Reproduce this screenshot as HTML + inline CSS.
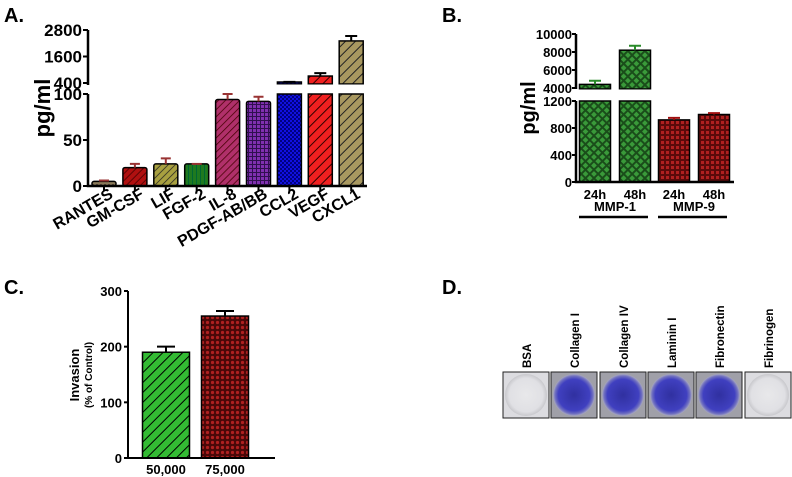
<!DOCTYPE html>
<html><head><meta charset="utf-8"><style>
body{margin:0;background:#fff;width:792px;height:477px;overflow:hidden;font-family:"Liberation Sans",Arial,sans-serif}
svg{position:absolute;left:0;top:0}
text{font-family:"Liberation Sans",Arial,sans-serif;font-weight:bold;fill:#000}
</style></head><body>
<svg id="fig" width="792" height="477" viewBox="0 0 792 477">
<defs>
<pattern id="pBrown" width="4" height="4" patternUnits="userSpaceOnUse"><rect width="4" height="4" fill="#8a7a5a"/><rect width="2" height="2" fill="#5a4a3a"/></pattern>
<pattern id="pRed" width="5" height="5" patternUnits="userSpaceOnUse" patternTransform="rotate(45)"><rect width="5" height="5" fill="#b01010"/><line x1="0" y1="0" x2="0" y2="5" stroke="#400" stroke-width="1.5"/></pattern>
<pattern id="pOlive" width="5" height="5" patternUnits="userSpaceOnUse" patternTransform="rotate(45)"><rect width="5" height="5" fill="#a8a040"/><line x1="0" y1="0" x2="0" y2="5" stroke="#222" stroke-width="1.5"/></pattern>
<pattern id="pGreenV" width="4" height="4" patternUnits="userSpaceOnUse"><rect width="4" height="4" fill="#1f7a1f"/><line x1="0.5" y1="0" x2="0.5" y2="4" stroke="#063" stroke-width="1"/></pattern>
<pattern id="pMaroon" width="5" height="5" patternUnits="userSpaceOnUse" patternTransform="rotate(45)"><rect width="5" height="5" fill="#b0306a"/><line x1="0" y1="0" x2="0" y2="5" stroke="#400" stroke-width="1.5"/></pattern>
<pattern id="pPurple" width="4" height="4" patternUnits="userSpaceOnUse"><rect width="4" height="4" fill="#8030b0"/><path d="M0 0.5H4M0.5 0V4" stroke="#301050" stroke-width="1"/></pattern>
<pattern id="pBlue" width="4" height="4" patternUnits="userSpaceOnUse"><rect width="4" height="4" fill="#1010e0"/><rect width="2" height="2" fill="#000080"/><rect x="2" y="2" width="2" height="2" fill="#000080"/></pattern>
<pattern id="pVegf" width="7" height="7" patternUnits="userSpaceOnUse" patternTransform="rotate(45)"><rect width="7" height="7" fill="#f02020"/><line x1="0" y1="0" x2="0" y2="7" stroke="#300" stroke-width="2"/></pattern>
<pattern id="pKhaki" width="7" height="7" patternUnits="userSpaceOnUse" patternTransform="rotate(45)"><rect width="7" height="7" fill="#a89860"/><line x1="0" y1="0" x2="0" y2="7" stroke="#222" stroke-width="2"/></pattern>
<pattern id="pGreenX" width="6" height="6" patternUnits="userSpaceOnUse" patternTransform="rotate(45)"><rect width="6" height="6" fill="#1a4d1a"/><rect x="1" y="1" width="4" height="4" fill="#3a9a3a"/></pattern>
<pattern id="pRedX" width="5" height="5" patternUnits="userSpaceOnUse"><rect width="5" height="5" fill="#5a0a0a"/><rect x="1" y="1" width="3" height="3" fill="#b02020"/></pattern>
<pattern id="pGreenD" width="7" height="7" patternUnits="userSpaceOnUse" patternTransform="rotate(45)"><rect width="7" height="7" fill="#33bb33"/><line x1="0" y1="0" x2="0" y2="7" stroke="#000" stroke-width="2"/></pattern>
<pattern id="pRedC" width="5" height="5" patternUnits="userSpaceOnUse"><rect width="5" height="5" fill="#4a0808"/><circle cx="2.5" cy="2.5" r="1.6" fill="#b02020"/></pattern>
<radialGradient id="gBlue"><stop offset="0" stop-color="#3030a0"/><stop offset="0.75" stop-color="#4040c0"/><stop offset="0.9" stop-color="#7070c0"/><stop offset="1" stop-color="#a8a8c0"/></radialGradient>
<radialGradient id="gBlank"><stop offset="0" stop-color="#e8e8ea"/><stop offset="0.8" stop-color="#e0e0e4"/><stop offset="1" stop-color="#c8c8cc"/></radialGradient>
</defs>
<g id="A"></g><g id="B"></g><g id="C"></g><g id="D"></g>
</svg>
<script>
const NS='http://www.w3.org/2000/svg';
function mk(p,tag,attrs,txt){const e=document.createElementNS(NS,tag);for(const k in attrs)e.setAttribute(k,attrs[k]);if(txt!=null)e.textContent=txt;p.appendChild(e);return e;}

// ---- Panel A data
const aCategories=['RANTES','GM-CSF','LIF','FGF-2','IL-8','PDGF-AB/BB','CCL2','VEGF','CXCL1'];
const aValues=[5,20,24,24,94,92,445,715,2305];
const aErrors=[6,24,30,24,100,97,450,850,2530];
const aFills=['pBrown','pRed','pOlive','pGreenV','pMaroon','pPurple','pBlue','pVegf','pKhaki'];
const aLowTicks=[0,50,100];
const aHighTicks=[400,1600,2800];
// ---- Panel B data
const bCategories=['24h','48h','24h','48h'];
const bGroups=['MMP-1','MMP-9'];
const bValues=[4400,8200,920,1000];
const bErrors=[4800,8700,950,1020];
const bFills=['pGreenX','pGreenX','pRedX','pRedX'];
const bLowTicks=[0,400,800,1200];
const bHighTicks=[4000,6000,8000,10000];
// ---- Panel C data
const cCategories=['50,000','75,000'];
const cValues=[190,255];
const cErrors=[200,264];
const cFills=['pGreenD','pRedC'];
const cTicks=[0,100,200,300];
// ---- Panel D
const dLabels=['BSA','Collagen I','Collagen IV','Laminin I','Fibronectin','Fibrinogen'];
const dStained=[false,true,true,true,true,false];

// Panel A
(function(){
const g=document.getElementById('A');
const X0=88,XEND=367,bw=24,step=30.9,first=104;
const yLow=v=>186-v*0.92;
const yHigh=v=>83-(v-400)*(53/2400);
const t=mk(g,'text',{x:4,y:22,'font-size':20},'A.');

const yt=mk(g,'text',{transform:'translate(50,108) rotate(-90)','font-size':22,'text-anchor':'middle'},'pg/ml');

aCategories.forEach((c,i)=>{
 const cx=first+i*step, x=cx-bw/2, v=aValues[i];
 const bar=mk(g,'g',{});
 
 
 if(v<=100){
  mk(bar,'rect',{x:x,y:yLow(v),width:bw,height:186-yLow(v),fill:'url(#'+aFills[i]+')',stroke:'#000','stroke-width':1.5,rx:2});
  mk(bar,'path',{d:`M${cx} ${yLow(v)}V${yLow(aErrors[i])}M${cx-5} ${yLow(aErrors[i])}H${cx+5}`,stroke:'#933','stroke-width':2,fill:'none'});
 } else {
  mk(bar,'rect',{x:x,y:yLow(100),width:bw,height:186-yLow(100),fill:'url(#'+aFills[i]+')',stroke:'#000','stroke-width':1.5});
  mk(bar,'rect',{x:x,y:yHigh(v),width:bw,height:84-yHigh(v),fill:'url(#'+aFills[i]+')',stroke:'#000','stroke-width':1.5});
  mk(bar,'path',{d:`M${cx} ${yHigh(v)}V${yHigh(aErrors[i])}M${cx-6} ${yHigh(aErrors[i])}H${cx+6}`,stroke:'#000','stroke-width':2,fill:'none'});
 }
 const lb=mk(g,'text',{transform:`translate(${cx+10},${197}) rotate(-30)`,'font-size':16,'text-anchor':'end'},c);
 
 mk(g,'line',{x1:cx,y1:186,x2:cx,y2:191,stroke:'#000','stroke-width':2});
});
mk(g,'rect',{x:X0+2,y:84.5,width:285,height:8,fill:'#fff'});
const ax=mk(g,'path',{d:`M${X0} ${yHigh(2800)}V85M${X0} ${yLow(100)}V186H${XEND}`,stroke:'#000','stroke-width':2.5,fill:'none'});

aLowTicks.forEach(v=>{mk(g,'line',{x1:X0-5,y1:yLow(v),x2:X0,y2:yLow(v),stroke:'#000','stroke-width':2});
 const tl=mk(g,'text',{x:X0-6,y:yLow(v)+6,'font-size':17,'text-anchor':'end'},v);});
aHighTicks.forEach(v=>{mk(g,'line',{x1:X0-5,y1:yHigh(v),x2:X0,y2:yHigh(v),stroke:'#000','stroke-width':2});
 const tl=mk(g,'text',{x:X0-6,y:yHigh(v)+6,'font-size':17,'text-anchor':'end'},v);});
})();

// Panel B
(function(){
const g=document.getElementById('B');
const X0=576,XEND=734,bw=31;
const xs=[595,635,674,714];
const yLow=v=>182-v*(81/1200);
const yHigh=v=>88-(v-4000)*(54/6000);
const t=mk(g,'text',{x:442,y:22,'font-size':20},'B.');

const yt=mk(g,'text',{transform:'translate(535,108) rotate(-90)','font-size':20,'text-anchor':'middle'},'pg/ml');

bValues.forEach((v,i)=>{
 const cx=xs[i],x=cx-bw/2;
 const bar=mk(g,'g',{});
 
 
 const col=i<2?'#2a8a2a':'#a01010';
 if(v<=1200){
  mk(bar,'rect',{x:x,y:yLow(v),width:bw,height:182-yLow(v),fill:'url(#'+bFills[i]+')',stroke:'#000','stroke-width':1.5});
  mk(bar,'path',{d:`M${cx} ${yLow(v)}V${yLow(bErrors[i])}M${cx-6} ${yLow(bErrors[i])}H${cx+6}`,stroke:col,'stroke-width':2,fill:'none'});
 } else {
  mk(bar,'rect',{x:x,y:yLow(1200),width:bw,height:182-yLow(1200),fill:'url(#'+bFills[i]+')',stroke:'#000','stroke-width':1.5});
  mk(bar,'rect',{x:x,y:yHigh(v),width:bw,height:89-yHigh(v),fill:'url(#'+bFills[i]+')',stroke:'#000','stroke-width':1.5});
  mk(bar,'path',{d:`M${cx} ${yHigh(v)}V${yHigh(bErrors[i])}M${cx-6} ${yHigh(bErrors[i])}H${cx+6}`,stroke:col,'stroke-width':2,fill:'none'});
 }
 const lb=mk(g,'text',{x:cx,y:199,'font-size':13,'text-anchor':'middle'},bCategories[i]);
 
});
mk(g,'rect',{x:X0+2,y:89.5,width:160,height:10,fill:'#fff'});
bGroups.forEach((gr,j)=>{
 const cx=(xs[2*j]+xs[2*j+1])/2;
 const lb=mk(g,'text',{x:cx,y:211,'font-size':13,'text-anchor':'middle'},gr);
 
 mk(g,'line',{x1:xs[2*j]-16,y1:217,x2:xs[2*j+1]+13,y2:217,stroke:'#000','stroke-width':2.5});
});
const ax=mk(g,'path',{d:`M${X0} ${yHigh(10000)}V89M${X0} ${yLow(1200)}V182H${XEND}`,stroke:'#000','stroke-width':2.5,fill:'none'});

bLowTicks.forEach(v=>{mk(g,'line',{x1:X0-4,y1:yLow(v),x2:X0,y2:yLow(v),stroke:'#000','stroke-width':2});
 const tl=mk(g,'text',{x:X0-4,y:yLow(v)+5,'font-size':13,'text-anchor':'end'},v);});
bHighTicks.forEach(v=>{mk(g,'line',{x1:X0-4,y1:yHigh(v),x2:X0,y2:yHigh(v),stroke:'#000','stroke-width':2});
 const tl=mk(g,'text',{x:X0-4,y:yHigh(v)+5,'font-size':13,'text-anchor':'end'},v);});
})();

// Panel C
(function(){
const g=document.getElementById('C');
const X0=128,XEND=275,bw=47;
const xs=[166,225];
const y=v=>458-v*(167/300);
const t=mk(g,'text',{x:4,y:294,'font-size':20},'C.');

const yt=mk(g,'text',{transform:'translate(79,375) rotate(-90)','font-size':13,'text-anchor':'middle'},'Invasion');

const yt2=mk(g,'text',{transform:'translate(92,375) rotate(-90)','font-size':10,'text-anchor':'middle'},'(% of Control)');

cValues.forEach((v,i)=>{
 const cx=xs[i];
 const bar=mk(g,'g',{});
 
 
 mk(bar,'rect',{x:cx-bw/2,y:y(v),width:bw,height:458-y(v),fill:'url(#'+cFills[i]+')',stroke:'#000','stroke-width':1.5});
 mk(bar,'path',{d:`M${cx} ${y(v)}V${y(cErrors[i])}M${cx-9} ${y(cErrors[i])}H${cx+9}`,stroke:'#000','stroke-width':2,fill:'none'});
 const lb=mk(g,'text',{x:cx,y:474,'font-size':13,'text-anchor':'middle'},cCategories[i]);
 
});
const ax=mk(g,'path',{d:`M${X0} ${y(300)}V458H${XEND}`,stroke:'#000','stroke-width':2,fill:'none'});

cTicks.forEach(v=>{mk(g,'line',{x1:X0-4,y1:y(v),x2:X0,y2:y(v),stroke:'#000','stroke-width':2});
 const tl=mk(g,'text',{x:X0-6,y:y(v)+5,'font-size':13,'text-anchor':'end'},v);});
})();

// Panel D
(function(){
const g=document.getElementById('D');
const t=mk(g,'text',{x:442,y:294,'font-size':20},'D.');

const xs=[503,551,600,648,696,745];
dLabels.forEach((l,i)=>{
 const x=xs[i],w=46,cx=x+w/2;
 const well=mk(g,'g',{});
 
 
 mk(well,'rect',{x:x,y:372,width:w,height:46,fill:dStained[i]?'#a0a0a8':'#dcdce0',stroke:'#222','stroke-width':1});
 mk(well,'circle',{cx:cx,cy:395,r:21,fill:dStained[i]?'url(#gBlue)':'url(#gBlank)'});
 const lb=mk(g,'text',{transform:`translate(${cx+5},368) rotate(-90)`,'font-size':11.5},l);
 
});
})();
</script>
</body></html>
